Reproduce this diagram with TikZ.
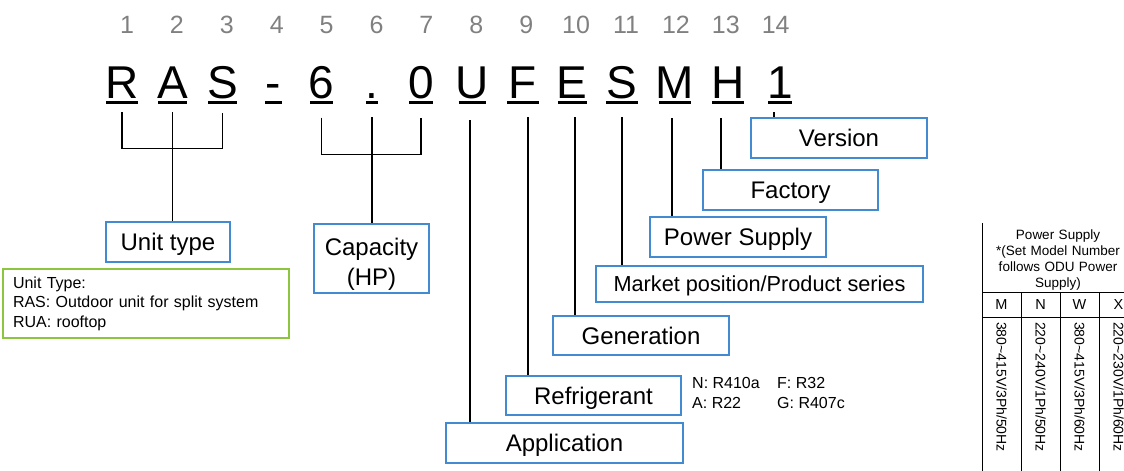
\documentclass[tikz,border=0pt]{standalone}
\usepackage{fontspec}
\setmainfont{Liberation Sans}
\usetikzlibrary{calc}

\definecolor{boxblue}{RGB}{66,139,208}
\definecolor{notegreen}{RGB}{140,198,63}
\definecolor{idxgray}{RGB}{128,128,128}

\begin{document}
\begin{tikzpicture}[x=1pt,y=-1pt,
    idx/.style={text=idxgray,font=\fontsize{25}{25}\selectfont,anchor=base,inner sep=0pt},
    ltr/.style={font=\fontsize{46}{46}\selectfont,anchor=base,inner sep=0pt},
    uline/.style={line width=3pt},
    lead/.style={line width=1.3pt},
    field/.style={draw=boxblue,line width=1.4pt,inner sep=0pt,align=center,
                  font=\fontsize{24}{30}\selectfont,text height=17.2pt,text depth=0pt},
    note/.style={font=\fontsize{16}{19.5}\selectfont,inner sep=0pt},
    tbl/.style={font=\fontsize{13.5}{16.2}\selectfont,inner sep=0pt},
    grid/.style={line width=1pt}
  ]
    \useasboundingbox (0,0) rectangle (1124,471);

    % position numbers and model letters
    \foreach \i in {1,...,14} {\node[idx] (n\i) at ({127+49.9*(\i-1)},33) {\i};};
    \foreach \c/\x/\h [count=\i] in {R/122/16,A/172.5/14.5,S/222.5/14.5,-/273.3/8.5,
        6/321.7/11.5,./372/6,0/421/12,U/472/13.5,F/523/16,E/572.3/14.5,
        S/622/16,M/675/16,H/728/16,1/780/12} {
      \node[ltr] (l\i) at (\x,98) {\c};
      \draw[uline] ([xshift={-\h*1pt},yshift=-4.3pt]l\i.base) -- ([xshift={\h*1pt},yshift=-4.3pt]l\i.base);
    };

    % fields
    \node[field,minimum width=124pt,minimum height=40pt] (utype) at (168,242)   {Unit type};
    \node[field,minimum width=115pt,minimum height=69pt,
          text height=53pt,text depth=0pt]                (cap)   at (371.5,258.5) {Capacity\\(HP)};
    \node[field,minimum width=237pt,minimum height=40pt] (app)   at (564.5,443) {Application};
    \node[field,minimum width=175pt,minimum height=39pt] (refr)  at (593.5,395.5) {Refrigerant};
    \node[field,minimum width=176pt,minimum height=39pt] (gen)   at (641,335.5) {Generation};
    \node[field,minimum width=327pt,minimum height=36pt,text height=15.5pt,
          font=\fontsize{21.7}{26}\selectfont]             (mkt)   at (759.5,284) {Market position/Product series};
    \node[field,minimum width=176pt,minimum height=40pt] (psup)  at (738,237)   {Power Supply};
    \node[field,minimum width=175pt,minimum height=40pt] (fac)   at (790.5,190) {Factory};
    \node[field,minimum width=176pt,minimum height=40pt] (ver)   at (839,138)   {Version};

    % notes
    \node[note,draw=notegreen,line width=1.2pt,inner xsep=10pt,text width=266pt,
          minimum height=69pt,align=left] (utnote) at (146,303.5)
          {Unit Type:\\RAS: Outdoor unit for split system\\RUA: rooftop};
    \node[note,anchor=base west] (rfn) at (692,388) {N: R410a};
    \node[note,anchor=base west] (rfa) at (692,408) {A: R22};
    \node[note,anchor=base west] (rff) at (777,388) {F: R32};
    \node[note,anchor=base west] (rfg) at (777,408) {G: R407c};

    % brackets
    \draw[lead] ([yshift=-14pt]l1.south) |- ([yshift=-50pt]l3.south) -- ([yshift=-14pt]l3.south);
    \draw[lead] ([yshift=-14pt]l2.south) -- (utype.north -| l2.south);
    \draw[lead] ([yshift=-19pt]l5.south) |- ([yshift=-56pt]l7.south) -- ([yshift=-19pt]l7.south);
    \draw[lead] ([yshift=-19pt]l6.south) -- (cap.north -| l6.south);

    % single leads
    \foreach \i/\x/\y in {8/470/120,9/528/117,10/575/117,11/622/117,12/672/118,13/721/118,14/774/112}
      {\coordinate (t\i) at (\x,\y);};
    \foreach \i/\b in {8/app,9/refr,10/gen,11/mkt,12/psup,13/fac,14/ver}
      {\draw[lead] (t\i) -- (t\i |- \b.north);};

    % power supply table
    \draw[grid] (982,223) -- (982,471);
    \foreach \x in {1021,1060,1099} {\draw[grid] (\x,292) -- (\x,471);};
    \draw[grid] (982,292) -- (1124,292);
    \draw[grid] (982,317) -- (1124,317);
    \node[tbl,text width=150pt,align=center] (pshead) at (1058,260)
      {Power Supply\\{*}(Set Model Number\\follows ODU Power\\Supply)};
    \foreach \c/\v [count=\k] in {M/{380\textasciitilde415V/3Ph/50Hz},N/{220\textasciitilde240V/1Ph/50Hz},
        W/{380\textasciitilde415V/3Ph/60Hz},X/{220\textasciitilde230V/1Ph/60Hz}} {
      \node[tbl,font=\fontsize{14.5}{16}\selectfont] (ps\k) at ({1001.5+39*(\k-1)},305) {\c};
      \node[tbl,font=\fontsize{14}{16}\selectfont,rotate=-90,anchor=west] (pv\k) at ({1001.5+39*(\k-1)},322) {\v};
    };
\end{tikzpicture}
\end{document}
